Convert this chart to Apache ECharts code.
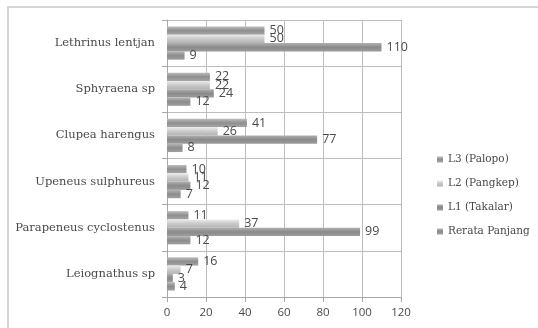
<!DOCTYPE html>
<html>
<head>
<meta charset="utf-8">
<script src="https://cdn.jsdelivr.net/npm/echarts@6/dist/echarts.min.js"></script>
<style>
  html, body { margin: 0; padding: 0; background: #fff; }
  #chart { width: 538px; height: 328px; }
</style>
</head>
<body>
<div id="chart"></div>
<script>
// Species, listed bottom to top as the category axis draws them
const species = [
  'Leiognathus sp',
  'Parapeneus cyclostenus',
  'Upeneus sulphureus',
  'Clupea harengus',
  'Sphyraena sp',
  'Lethrinus lentjan'
];

// Values per location, same order as species
const l3Palopo = [16, 11, 10, 41, 22, 50];
const l2Pangkep = [7, 37, 11, 26, 22, 50];
const l1Takalar = [3, 99, 12, 77, 24, 110];
const rerataPanjang = [4, 12, 7, 8, 12, 9];

const xTicks = [0, 20, 40, 60, 80, 100, 120];

// First series sits at the top of each group
const seriesNames = ['L3 (Palopo)', 'L2 (Pangkep)', 'L1 (Takalar)', 'Rerata Panjang'];
const seriesData = [l3Palopo, l2Pangkep, l1Takalar, rerataPanjang];

function grad(top, mid, bottom) {
  return new echarts.graphic.LinearGradient(0, 0, 0, 1, [
    { offset: 0, color: top },
    { offset: 0.5, color: mid },
    { offset: 1, color: bottom }
  ]);
}

const fills = [
  grad('#bdbdbd', '#8f8f8f', '#a6a6a6'),
  grad('#ececec', '#c9c9c9', '#b3b3b3'),
  grad('#b0b0b0', '#8a8a8a', '#9c9c9c'),
  grad('#b5b5b5', '#8c8c8c', '#a0a0a0')
];
const legendColors = ['#8a8a8a', '#d0d0d0', '#8e8e8e', '#9a9a9a'];

const chart = echarts.init(document.getElementById('chart'), null, { renderer: 'canvas' });

const series = seriesNames.map((name, i) => ({
  name: name,
  type: 'bar',
  data: seriesData[i],
  barGap: '0%',
  barCategoryGap: '28%',
  itemStyle: { color: fills[i] },
  label: {
    show: true,
    position: 'right',
    distance: 5,
    color: '#4a4a4a',
    fontFamily: 'Open Sans',
    fontSize: 12.5
  }
}));

chart.setOption({
  animation: false,
  backgroundColor: '#fff',
  color: legendColors,
  graphic: [{
    type: 'rect',
    shape: { x: 8, y: 7, width: 560, height: 360 },
    style: { fill: 'none', stroke: '#d4d4d4', lineWidth: 2 },
    silent: true,
    z: -1
  }],
  grid: { left: 167, right: 137, top: 20, bottom: 31, containLabel: false },
  legend: {
    orient: 'vertical',
    left: 432,
    top: 149,
    itemWidth: 6,
    itemHeight: 6,
    itemGap: 13,
    icon: 'rect',
    data: seriesNames,
    textStyle: { color: '#4a4a4a', fontFamily: 'DejaVu Serif', fontSize: 10.5 }
  },
  xAxis: {
    type: 'value',
    min: 0,
    max: 120,
    interval: 20,
    axisLine: { show: true, lineStyle: { color: '#a8a8a8' } },
    axisTick: { show: true, length: 5, lineStyle: { color: '#a8a8a8' } },
    axisLabel: {
      color: '#4a4a4a',
      fontFamily: 'Open Sans',
      fontSize: 11.5,
      margin: 10,
      formatter: v => xTicks.includes(v) ? String(v) : ''
    },
    splitLine: { show: true, lineStyle: { color: '#bdbdbd' } }
  },
  yAxis: {
    type: 'category',
    data: species,
    axisLine: { show: true, lineStyle: { color: '#a8a8a8' } },
    axisTick: { show: true, length: 5, lineStyle: { color: '#a8a8a8' } },
    axisLabel: { color: '#4a4a4a', fontFamily: 'DejaVu Serif', fontSize: 11.5, margin: 12 },
    splitLine: { show: true, lineStyle: { color: '#bdbdbd' } }
  },
  series: series
});
</script>
</body>
</html>
